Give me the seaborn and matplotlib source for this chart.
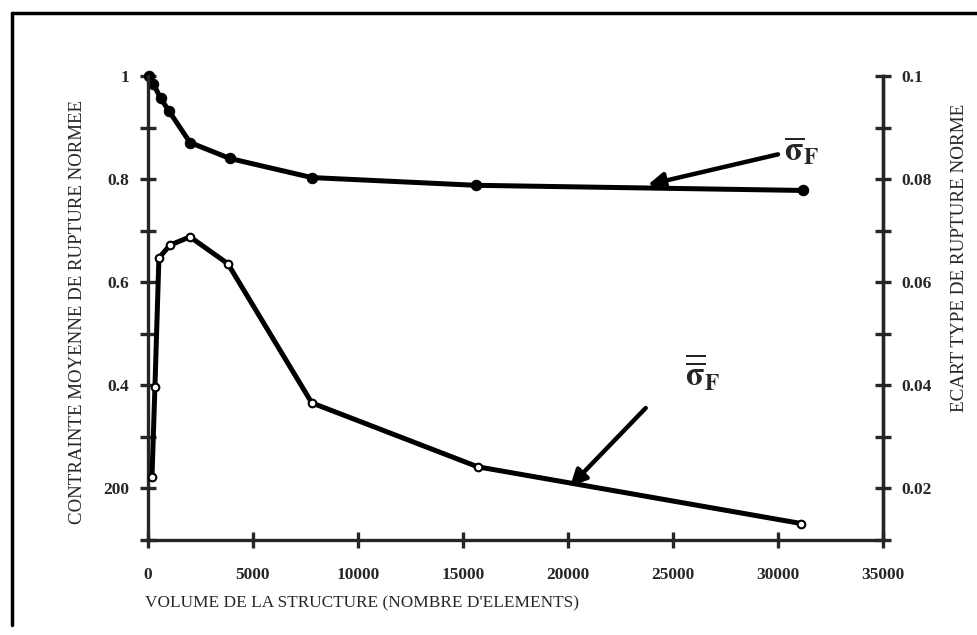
import numpy as np
import pandas as pd
import seaborn as sns
import matplotlib.pyplot as plt
from matplotlib.lines import Line2D

# Values
volume_moy = [60, 250, 600, 1000, 2000, 3900, 7800, 15600, 31200]
contrainte_moy = [1.0, 0.985, 0.957, 0.932, 0.871, 0.840, 0.803, 0.788, 0.778]

volume_ect = [190, 330, 520, 1050, 2000, 3800, 7800, 15700, 31100]
ecart_type = [0.0223, 0.0397, 0.0647, 0.0672, 0.0688, 0.0636, 0.0366, 0.0242, 0.0132]

x_ticks = [0, 5000, 10000, 15000, 20000, 25000, 30000, 35000]
left_ticks = [0.2, 0.4, 0.6, 0.8, 1.0]
left_tick_labels = ["200", "0.4", "0.6", "0.8", "1"]
right_ticks = [0.02, 0.04, 0.06, 0.08, 0.1]
right_tick_labels = ["0.02", "0.04", "0.06", "0.08", "0.1"]

sns.set_style("ticks")
plt.rcParams['font.family'] = ['Liberation Serif', 'DejaVu Serif']
plt.rcParams['mathtext.fontset'] = 'stix'

fig = plt.figure(figsize=(9.77, 6.35), dpi=100)
ax = fig.add_axes([148 / 977, 95 / 635, 735 / 977, 464 / 635])
ax2 = ax.twinx()

df_moy = pd.DataFrame({"volume": volume_moy, "moy": contrainte_moy})
df_ect = pd.DataFrame({"volume": volume_ect, "ect": ecart_type})

sns.lineplot(data=df_moy, x="volume", y="moy", ax=ax, color="black", linewidth=3.6,
             marker="o", markersize=7.5, markerfacecolor="black", markeredgecolor="black",
             clip_on=False)
sns.lineplot(data=df_ect, x="volume", y="ect", ax=ax2, color="black", linewidth=3.6,
             marker="o", markersize=5.5, markerfacecolor="white", markeredgecolor="black",
             markeredgewidth=1.5, clip_on=False, zorder=3)

ax.set_xlim(0, 35000)
ax.set_ylim(0.1, 1.0)
ax2.set_ylim(0.01, 0.1)

ax.set_xticks(x_ticks)
ax.set_xticklabels([str(t) for t in x_ticks])
ax.set_yticks(np.arange(0.1, 1.001, 0.1), minor=True)
ax.set_yticks(left_ticks)
ax.set_yticklabels(left_tick_labels)
ax2.set_yticks(np.arange(0.01, 0.1001, 0.01), minor=True)
ax2.set_yticks(right_ticks)
ax2.set_yticklabels(right_tick_labels)

for a in (ax, ax2):
    a.spines['top'].set_visible(False)
    for s in a.spines.values():
        s.set_linewidth(2.4)
    a.tick_params(which='both', direction='inout', length=11, width=2.4, labelsize=12.5, pad=8)
    for lab in a.get_xticklabels() + a.get_yticklabels():
        lab.set_fontweight('bold')
ax.tick_params(axis='x', pad=14)
ax2.spines['left'].set_visible(False)
ax2.spines['bottom'].set_visible(False)

ax.set_xlabel("")
ax.set_ylabel("")
ax2.set_ylabel("")

fig.text(362 / 977, 1 - 603 / 635, "VOLUME DE LA STRUCTURE (NOMBRE D'ELEMENTS)",
         ha='center', va='center', fontsize=12.4)
fig.text(78 / 977, 1 - 312 / 635, "CONTRAINTE MOYENNE DE RUPTURE NORMEE",
         ha='center', va='center', rotation=90, fontsize=13.6)
fig.text(960 / 977, 1 - 258 / 635, "ECART TYPE DE RUPTURE NORME",
         ha='center', va='center', rotation=90, fontsize=13.8)

# curve labels with arrows
arrow = dict(arrowstyle='-|>', color='black', lw=3.2, mutation_scale=24, shrinkA=0, shrinkB=0)
ax.annotate('', xy=(23800, 0.789), xytext=(30000, 0.848), arrowprops=arrow)
ax.text(30300, 0.855, r'$\overline{\mathbf{\sigma}}_{\mathbf{F}}$', fontsize=24,
        ha='left', va='center')
ax2.annotate('', xy=(20100, 0.0204), xytext=(23700, 0.0356), arrowprops=arrow)
ax2.text(26400, 0.0425, r'$\overline{\overline{\mathbf{\sigma}}}_{\mathbf{F}}$', fontsize=24,
         ha='center', va='center')

# scan frame
fig.add_artist(Line2D([12 / 977, 1.0], [1 - 13 / 635, 1 - 13 / 635], color='black', lw=2.5))
fig.add_artist(Line2D([12 / 977, 12 / 977], [1 - 13 / 635, 1 - 625 / 635], color='black', lw=2.5))

fig.savefig("out.png", dpi=100)
